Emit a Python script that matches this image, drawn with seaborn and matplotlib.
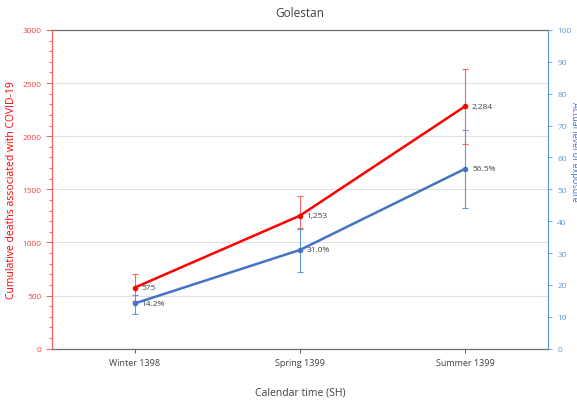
import numpy as np
import pandas as pd
import matplotlib
matplotlib.use("Agg")
import matplotlib.pyplot as plt
import seaborn as sns
from matplotlib.ticker import MultipleLocator

seasons = ["Winter 1398", "Spring 1399", "Summer 1399"]
deaths = [575, 1253, 2284]
deaths_lo = [450, 1140, 1930]
deaths_hi = [700, 1440, 2630]
exposure = [14.2, 31.0, 56.5]
exposure_lo = [11.0, 24.1, 44.2]
exposure_hi = [17.0, 37.6, 68.7]
death_labels = ["575", "1,253", "2,284"]
exposure_labels = ["14.2%", "31.0%", "56.5%"]

red = "#FF0000"
blue = "#4472C4"
light_blue = "#5B9BD5"

sns.set_style("white")
plt.rcParams["font.family"] = ["Open Sans", "DejaVu Sans"]

fig, ax = plt.subplots(figsize=(5.77, 4.02), dpi=100)
fig.subplots_adjust(left=0.09, right=0.95, top=0.923, bottom=0.13)

df = pd.DataFrame({"season": seasons, "deaths": deaths, "exposure": exposure})
xs = np.arange(len(seasons))

# left axis: deaths
sns.lineplot(data=df, x="season", y="deaths", ax=ax, color=red, lw=1.8,
             marker="o", markersize=4, markeredgewidth=0, sort=False, zorder=4)
ax.errorbar(xs, deaths, yerr=[np.array(deaths) - deaths_lo, np.array(deaths_hi) - deaths],
            fmt="none", ecolor="#FF6060", elinewidth=0.8, capsize=2.5, capthick=0.8, zorder=3)
for x, y, t in zip(xs, deaths, death_labels):
    ax.text(x + 0.04, y, t, fontsize=6, color="#404040", va="center", ha="left")

ax.set_xlim(-0.5, 2.5)
ax.set_ylim(0, 3000)
ax.yaxis.set_major_locator(MultipleLocator(500))
ax.yaxis.set_minor_locator(MultipleLocator(100))
ax.grid(axis="y", color="#E0E0E0", lw=0.8)
ax.set_axisbelow(True)
ax.tick_params(axis="y", which="both", colors="#FF4040", labelsize=6, direction="out", left=True)
ax.tick_params(axis="y", which="major", length=4, width=0.6)
ax.tick_params(axis="y", which="minor", length=2.5, width=0.6)
ax.tick_params(axis="x", colors="#404040", labelsize=6.5, direction="out", bottom=True, length=3, width=0.6)
ax.set_xlabel("Calendar time (SH)", fontsize=7.5, color="#404040", va="center")
ax.xaxis.set_label_coords(0.5, -0.135)
ax.set_ylabel("Cumulative deaths associated with COVID-19", fontsize=7.5, color=red)
ax.yaxis.set_label_coords(-0.07, 0.5)
for s in ["top", "bottom"]:
    ax.spines[s].set_color("#707070")
    ax.spines[s].set_linewidth(0.9)
ax.spines["left"].set_color("#FF6060")
ax.spines["left"].set_linewidth(0.9)
ax.spines["right"].set_visible(False)
ax.set_title("Golestan", fontsize=8.5, color="#404040", pad=10)

# right axis: exposure
ax2 = ax.twinx()
sns.lineplot(data=df, x="season", y="exposure", ax=ax2, color=blue, lw=1.8,
             marker="o", markersize=4, markeredgewidth=0, sort=False, zorder=4)
ax2.errorbar(xs, exposure, yerr=[np.array(exposure) - exposure_lo, np.array(exposure_hi) - exposure],
             fmt="none", ecolor=light_blue, elinewidth=0.8, capsize=2.5, capthick=0.8, zorder=3)
for x, y, t in zip(xs, exposure, exposure_labels):
    ax2.text(x + 0.04, y, t, fontsize=6, color="#404040", va="center", ha="left")
ax2.set_ylim(0, 100)
ax2.yaxis.set_major_locator(MultipleLocator(10))
ax2.tick_params(axis="y", colors=light_blue, labelsize=6, direction="out", right=True, length=3, width=0.6)
ax2.set_ylabel("Actual level of exposure", fontsize=6.5, color=blue, rotation=270, va="center")
ax2.yaxis.set_label_coords(1.054, 0.62)
for s in ["top", "bottom", "left"]:
    ax2.spines[s].set_visible(False)
ax2.spines["right"].set_color(light_blue)
ax2.spines["right"].set_linewidth(0.9)
ax2.set_xlabel("")
ax.set_xlim(-0.5, 2.5)

fig.savefig("out.png", dpi=100)
